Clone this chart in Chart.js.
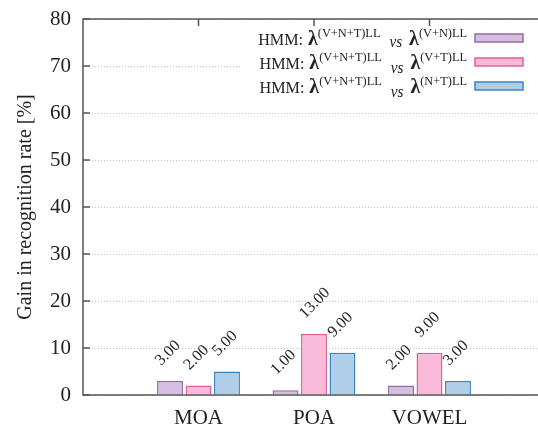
<!DOCTYPE html>
<html>
<head>
<meta charset="utf-8">
<script src="https://cdn.jsdelivr.net/npm/chart.js@4.4.0/dist/chart.umd.min.js"></script>
<style>
  html, body { margin: 0; padding: 0; background: #fff; overflow: hidden; }
  #wrap { width: 548px; height: 429px; }
</style>
</head>
<body>
<div id="wrap"><canvas id="gainChart"></canvas></div>
<script>
// chart data (empty slots at both ends keep the gnuplot x range)
const categories = ["", "MOA", "POA", "VOWEL", ""];
const gainVsVN = [null, 3, 1, 2, null];
const gainVsVT = [null, 2, 13, 9, null];
const gainVsNT = [null, 5, 9, 3, null];
const legendSup = ["(V+N)LL", "(V+T)LL", "(N+T)LL"];
const yTickValues = [0, 10, 20, 30, 40, 50, 60, 70, 80];

const SERIF = "'Liberation Serif', 'DejaVu Serif', serif";
const fills = ["rgb(214,190,224)", "rgb(248,186,216)", "rgb(176,206,232)"];
const borders = ["rgb(148,108,160)", "rgb(228,92,152)", "rgb(62,132,192)"];

//Draws the box, inner ticks, value labels and the legend
const gnuplotLook = {
  id: "gnuplotLook",
  afterDatasetsDraw(chart) {
    const ctx = chart.ctx;
    //Value labels rotated by 45 degrees
    ctx.save();
    ctx.font = "16px " + SERIF;
    ctx.fillStyle = "#222";
    ctx.textAlign = "left";
    ctx.textBaseline = "alphabetic";
    chart.data.datasets.forEach((ds, i) => {
      chart.getDatasetMeta(i).data.forEach((bar, j) => {
        if (ds.data[j] == null) return;
        ctx.save();
        ctx.translate(bar.x - 9, bar.y - 15);
        ctx.rotate(-Math.PI / 4);
        ctx.fillText(ds.data[j].toFixed(2), 0, 0);
        ctx.restore();
      });
    });
    ctx.restore();
  },
  afterDraw(chart) {
    const ctx = chart.ctx;
    const area = chart.chartArea;
    const x = chart.scales.x;
    const y = chart.scales.y;
    ctx.save();

    //Legend with white background (text a bit narrow like the original)
    const squeeze = 0.95;
    ctx.fillStyle = "#fff";
    ctx.fillRect(242, 24, 300, 76);
    ctx.textBaseline = "alphabetic";
    legendSup.forEach((sup, i) => {
      const base = 45 + i * 24;
      const vsDrop = i == 0 ? 2 : 3.5;
      const parts = [
        { t: "HMM:", f: "17px " + SERIF, dy: 0, after: 5 },
        { t: "\u03bb", f: "bold 21px " + SERIF, dy: 0 },
        { t: "(V+N+T)LL", f: "13px " + SERIF, dy: -8, after: 9 },
        { t: "vs", f: "italic 16px " + SERIF, dy: vsDrop, after: 7 },
        { t: "\u03bb", f: "bold 21px " + SERIF, dy: 0 },
        { t: sup, f: "13px " + SERIF, dy: -8 },
      ];
      let total = 0;
      parts.forEach((p) => {
        ctx.font = p.f;
        p.w = ctx.measureText(p.t).width * squeeze + (p.after || 0);
        total += p.w;
      });
      let px = 467 - total;
      ctx.fillStyle = "#222";
      parts.forEach((p) => {
        ctx.font = p.f;
        ctx.save();
        ctx.translate(px, base + p.dy);
        ctx.scale(squeeze, 1);
        ctx.fillText(p.t, 0, 0);
        ctx.restore();
        px += p.w;
      });
      ctx.fillStyle = fills[i];
      ctx.strokeStyle = borders[i];
      ctx.lineWidth = 1.5;
      ctx.fillRect(475, base - 11, 48, 8);
      ctx.strokeRect(475, base - 11, 48, 8);
    });

    //Frame and inner ticks
    ctx.strokeStyle = "#555";
    ctx.lineWidth = 1.5;
    ctx.strokeRect(area.left, area.top, area.right - area.left, area.bottom - area.top);
    ctx.beginPath();
    yTickValues.forEach((v) => {
      const py = y.getPixelForValue(v);
      ctx.moveTo(area.left, py);
      ctx.lineTo(area.left + 7, py);
    });
    [1, 2, 3].forEach((k) => {
      const px = x.getPixelForTick(k);
      ctx.moveTo(px, area.top);
      ctx.lineTo(px, area.top + 7);
    });
    ctx.stroke();
    ctx.restore();
  },
};

const chartData = {
  labels: categories,
  datasets: [gainVsVN, gainVsVT, gainVsNT].map((values, i) => ({
    label: "HMM " + legendSup[i],
    data: values,
    backgroundColor: fills[i],
    borderColor: borders[i],
    borderWidth: 1.5,
    barPercentage: 0.91,
    categoryPercentage: 0.74,
  })),
};

const chartConfig = {
  type: "bar",
  data: chartData,
  options: {
    responsive: true,
    maintainAspectRatio: false,
    animation: false,
    layout: { padding: { left: 4, top: 19, right: 3, bottom: 0 } },
    plugins: { legend: { display: false }, tooltip: { enabled: false } },
    scales: {
      x: {
        offset: false,
        grid: { display: false, offset: false },
        border: { display: false },
        ticks: { color: "#222", font: { family: SERIF, size: 21 }, padding: 3, maxRotation: 0, autoSkip: false },
        afterFit: (scale) => { scale.height = 34; },
      },
      y: {
        min: 0,
        max: 80,
        ticks: { stepSize: 10, color: "#222", font: { family: SERIF, size: 21 }, padding: 12 },
        grid: { color: "#c4c4c4", lineWidth: 1, drawTicks: false },
        border: { display: false, dash: [1, 2] },
        title: {
          display: true,
          text: "Gain in recognition rate [%]",
          color: "#222",
          font: { family: SERIF, size: 20 },
          padding: { top: 10, bottom: 0 },
        },
        afterFit: (scale) => {
          scale.width = 79;
          scale.paddingTop = 0;
          scale.paddingBottom = 0;
        },
      },
    },
  },
  plugins: [gnuplotLook],
};

new Chart(document.getElementById("gainChart"), chartConfig);
</script>
</body>
</html>
